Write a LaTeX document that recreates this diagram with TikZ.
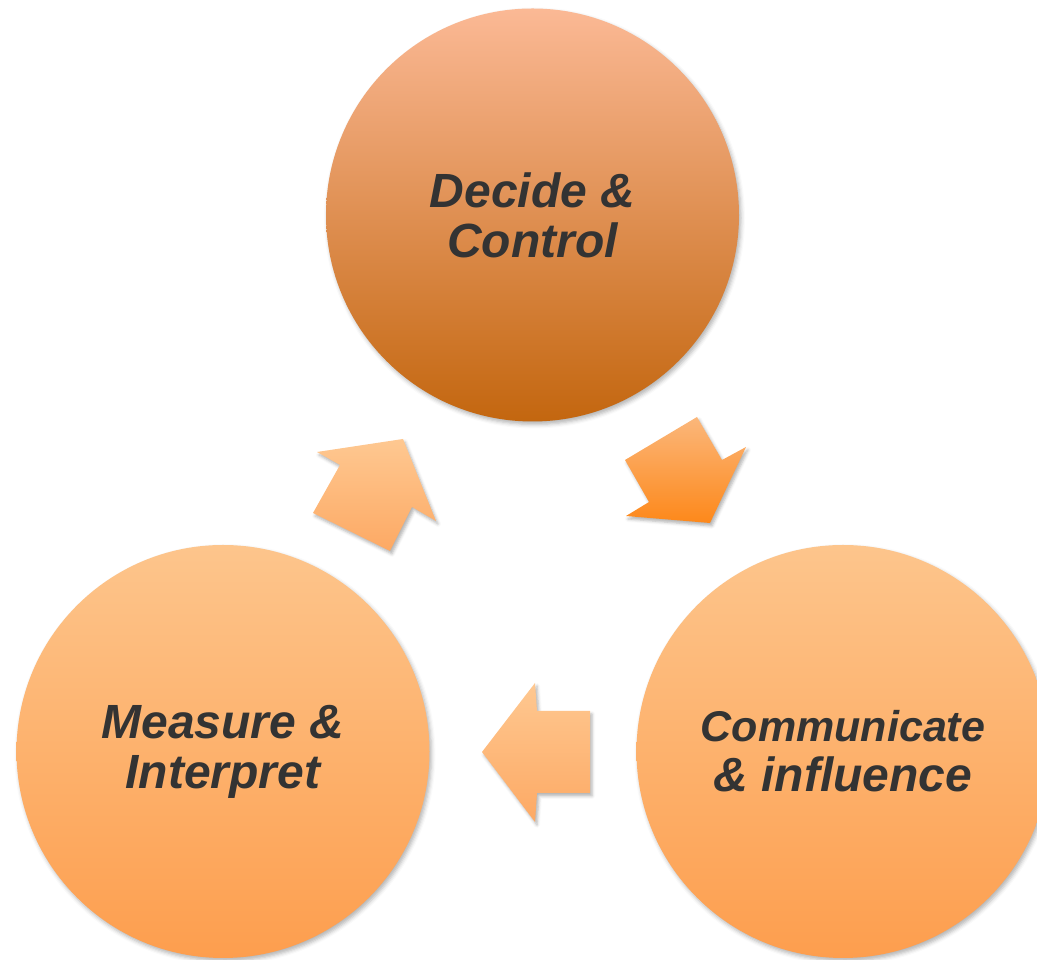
\documentclass[tikz,border=0pt]{standalone}
\usepackage{fontspec}
\setmainfont{Liberation Sans}
\usetikzlibrary{shadows.blur}
\definecolor{darktext}{HTML}{333333}
\definecolor{rusttop}{HTML}{FBB995}
\definecolor{rustbot}{HTML}{C3660F}
\definecolor{peachtop}{HTML}{FDC58C}
\definecolor{peachbot}{HTML}{FD9E4E}
\definecolor{arrowtop}{HTML}{FEC891}
\definecolor{arrowbot}{HTML}{FDA964}
\definecolor{hottop}{HTML}{FBB77B}
\definecolor{hotbot}{HTML}{FD881A}

\begin{document}
\begin{tikzpicture}[x=1pt, y=1pt,
  bubble/.style={circle, minimum size=413pt, inner sep=0pt, align=center,
    text=darktext, font=\fontsize{48}{50}\selectfont\bfseries\itshape,
    blur shadow={shadow xshift=2pt, shadow yshift=-3pt, shadow blur radius=4pt, shadow opacity=30}},
  blockarrow/.style={blur shadow={shadow xshift=2pt, shadow yshift=-3pt, shadow blur radius=3pt, shadow opacity=30}}
]
\clip (0,0) rectangle (1037,960);
\node[bubble, top color=rusttop, bottom color=rustbot] (DC) at (532.5,745) {Decide \&\\Control};
\node[bubble, top color=peachtop, bottom color=peachbot] (MI) at (223,208.5) {Measure \&\\Interpret};
\node[bubble, top color=peachtop, bottom color=peachbot] (CI) at (843,208.5)
  {{\fontsize{43}{48}\selectfont Communicate}\\\& influence};
% cycle arrows
\path[blockarrow, top color=arrowtop, bottom color=arrowbot]
  (403,521) -- (317,508) -- (340,495) -- (313,447) -- (390,409) -- (412,453) -- (436,439) -- cycle;
\path[blockarrow, top color=hottop, bottom color=hotbot]
  (697,543) -- (625,500) -- (649,458) -- (626,444) -- (710,437) -- (746,513) -- (722,500) -- cycle;
\path[blockarrow, top color=arrowtop, bottom color=arrowbot]
  (482,208) -- (535,277) -- (537,249) -- (590,249) -- (590,167) -- (537,167) -- (535,138) -- cycle;
\end{tikzpicture}
\end{document}
